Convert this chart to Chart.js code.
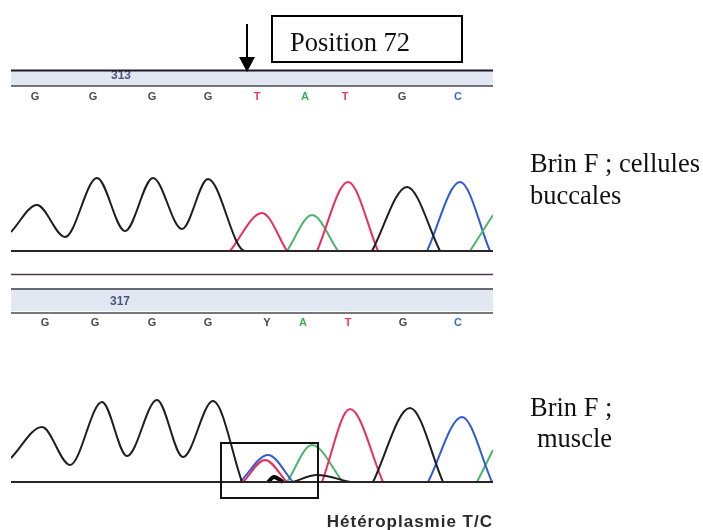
<!DOCTYPE html>
<html>
<head>
<meta charset="utf-8">
<script src="https://cdn.jsdelivr.net/npm/chart.js@4.4.1/dist/chart.umd.min.js"></script>
<style>
  html, body { margin:0; padding:0; background:#fff; }
  #page { position:relative; width:703px; height:530px; overflow:hidden; background:#fff; }
  canvas { position:absolute; left:0; }
  .serif { position:absolute; font-family:"Liberation Serif","Times New Roman",serif; font-size:26.5px; color:#111; line-height:32px; white-space:nowrap; }
  #posbox { position:absolute; left:271px; top:15px; width:192px; height:48px; border:2px solid #000; box-sizing:border-box; }
  #arrowline { position:absolute; left:246px; top:24px; width:2px; height:36px; background:#000; }
  #arrowhead { position:absolute; left:239px; top:57px; width:0; height:0; border-left:8px solid transparent; border-right:8px solid transparent; border-top:15px solid #000; }
  #hetero { position:absolute; right:210px; top:511px; font-family:"Liberation Sans",Arial,sans-serif; font-weight:bold; font-size:17px; letter-spacing:1px; color:#2a2a2a; line-height:22px; white-space:nowrap; }
  #hetbox { position:absolute; left:220px; top:442px; width:99px; height:57px; border:2px solid #111; box-sizing:border-box; }
</style>
</head>
<body>
<div id="page">
  <canvas id="top" width="703" height="260" style="top:0px"></canvas>
  <canvas id="bottom" width="703" height="270" style="top:260px"></canvas>
  <div id="posbox"></div>
  <div class="serif" style="left:290px; top:26px;">Position 72</div>
  <div id="arrowline"></div>
  <div id="arrowhead"></div>
  <div class="serif" style="left:530px; top:147px;">Brin F ; cellules</div>
  <div class="serif" style="left:530px; top:179px;">buccales</div>
  <div class="serif" style="left:530px; top:391px;">Brin F ;</div>
  <div class="serif" style="left:537px; top:422px;">muscle</div>
  <div id="hetbox"></div>
  <div id="hetero">Hétéroplasmie T/C</div>
</div>
<script>
// ---------- DATA (scan position, signal intensity) ----------
// Top: forward strand, buccal cells
const topCalls      = ['G','G','G','G','T','A','T','G','C'];
const topCallScans  = [24, 82, 141, 197, 246, 294, 334, 391, 447];
const topBlackScans = [0, 26, 54, 86, 114, 142, 171, 197, 234, 327, null, 361, 396, 429];
const topBlackSig   = [19, 46, 14, 73, 20, 73, 22, 72, 0, 0, null, 0, 64, 0];
const topRedScans   = [219, 251, 276, null, 306, 337, 367];
const topRedSig     = [0, 38, 0, null, 0, 69, 0];
const topGreenScans = [276, 301, 327, null, 459, 482];
const topGreenSig   = [0, 36, 0, null, 0, 36];
const topBlueScans  = [416, 449, 479];
const topBlueSig    = [0, 69, 0];

// Bottom: forward strand, muscle
const botCalls      = ['G','G','G','G','Y','A','T','G','C'];
const botCallScans  = [34, 84, 141, 197, 256, 292, 337, 392, 447];
const botBlackScans = [0, 31, 59, 91, 116, 146, 172, 202, 231, null, 282, 306, 339, null, 362, 399, 432];
const botBlackSig   = [24, 55, 17, 80, 26, 82, 25, 81, 0, null, 0, 7, 0, null, 0, 74, 0];
const botBlobScans  = [257, 263, 272];
const botBlobSig    = [0, 5, 0];
const botRedScans   = [232, 254, 276, null, 311, 339, 372];
const botRedSig     = [0, 22, 0, null, 0, 73, 0];
const botBlueScans  = [229, 257, 282, null, 417, 451, 481];
const botBlueSig    = [0, 27, 0, null, 0, 65, 0];
const botGreenScans = [276, 301, 332, null, 466, 482];
const botGreenSig   = [0, 37, 0, null, 0, 32];

const baseScans = [0, 482];
const baseSig   = [0, 0];
// -------------------------------------------------------------

const callColors = { G:'#4a4a4a', T:'#e5405a', A:'#3fae5c', C:'#3a6cd0', Y:'#444444' };
const C_BLACK = '#1e1e1e', C_RED = '#ea2f5e', C_GREEN = '#4db56b', C_BLUE = '#2f5cd3';

function pts(xs, ys) { return xs.map((x, i) => (x === null ? { x: NaN, y: null } : { x: x, y: ys[i] })); }

function trace(xs, ys, color, width, order) {
  return { data: pts(xs, ys), borderColor: color, borderWidth: width, pointRadius: 0,
           cubicInterpolationMode: 'monotone', spanGaps: false, fill: false, order: order };
}

const decor = {
  id: 'decor',
  beforeDraw(chart, args, o) {
    const ctx = chart.ctx, a = chart.chartArea;
    ctx.save();
    ctx.fillStyle = '#e2e8f2';
    ctx.fillRect(a.left, o.band[0], a.right - a.left, o.band[1] - o.band[0]);
    ctx.font = 'bold 12px "Liberation Sans", Arial, sans-serif';
    ctx.fillStyle = '#4b5680';
    ctx.textAlign = 'center'; ctx.textBaseline = 'middle';
    ctx.fillText(o.number, o.numberX, o.numberY);
    o.lines.forEach(l => {
      ctx.strokeStyle = l.c; ctx.lineWidth = l.w;
      ctx.beginPath(); ctx.moveTo(a.left, l.y); ctx.lineTo(a.right, l.y); ctx.stroke();
    });
    const xs = chart.scales.x;
    ctx.font = 'bold 11px "Liberation Sans", Arial, sans-serif';
    o.calls.forEach((c, i) => {
      ctx.fillStyle = callColors[c];
      ctx.fillText(c, xs.getPixelForValue(o.callScans[i]), o.callY);
    });
    ctx.restore();
  }
};

function makeChart(id, datasets, padTop, padBottom, decorOpts) {
  return new Chart(document.getElementById(id), {
    type: 'line',
    data: { datasets: datasets },
    plugins: [decor],
    options: {
      responsive: false, animation: false, devicePixelRatio: 1,
      layout: { padding: { left: 11, right: 210, top: padTop, bottom: padBottom } },
      scales: {
        x: { type: 'linear', min: 0, max: 482, display: false },
        y: { min: -5, max: 105, display: false }
      },
      plugins: { legend: { display: false }, tooltip: { enabled: false }, decor: decorOpts }
    }
  });
}

makeChart('top', [
  trace(baseScans, baseSig, '#2a2426', 2, 0),
  trace(topBlackScans, topBlackSig, C_BLACK, 2, 1),
  trace(topRedScans, topRedSig, C_RED, 2, 2),
  trace(topGreenScans, topGreenSig, C_GREEN, 2, 3),
  trace(topBlueScans, topBlueSig, C_BLUE, 2, 4)
], 146, 4, {
  band: [71, 86], number: '313', numberX: 121, numberY: 76,
  lines: [{ y: 70.5, c: '#1c1c28', w: 2 }, { y: 86, c: '#4a4a55', w: 1.5 }],
  calls: topCalls, callScans: topCallScans, callY: 97
});

makeChart('bottom', [
  trace(baseScans, baseSig, '#2a2426', 2, 0),
  trace(botBlackScans, botBlackSig, C_BLACK, 2, 1),
  trace(botBlobScans, botBlobSig, '#000', 4, 1),
  trace(botRedScans, botRedSig, C_RED, 2, 3),
  trace(botBlueScans, botBlueSig, C_BLUE, 2, 2),
  trace(botGreenScans, botGreenSig, C_GREEN, 2, 4)
], 117, 43, {
  band: [29, 51], number: '317', numberX: 120, numberY: 42,
  lines: [{ y: 14.5, c: '#4a3a44', w: 1.5 }, { y: 29, c: '#3a3a48', w: 1.5 }, { y: 53, c: '#4a4a55', w: 1.5 }],
  calls: botCalls, callScans: botCallScans, callY: 63
});
</script>
</body>
</html>
